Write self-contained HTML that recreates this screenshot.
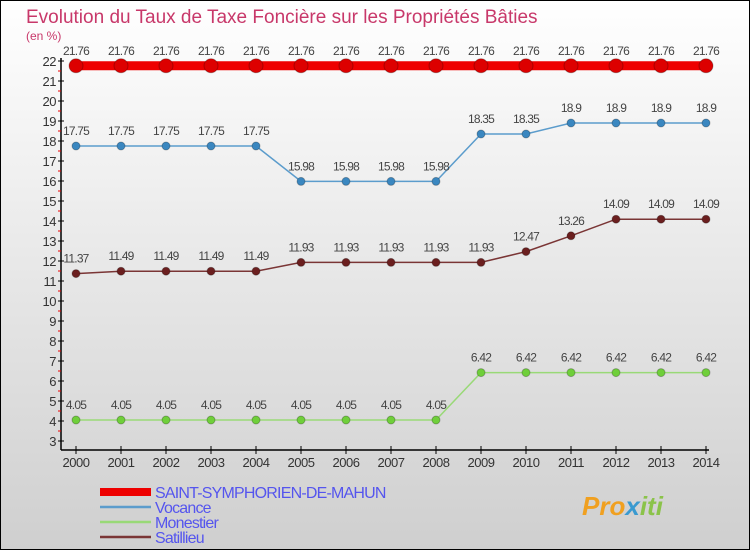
<!DOCTYPE html>
<html><head><meta charset="utf-8"><style>
html,body{margin:0;padding:0}
body{width:750px;height:550px;overflow:hidden}
svg{display:block;font-family:"Liberation Sans",sans-serif}
</style></head><body>
<svg id="chart" width="750" height="550" xmlns="http://www.w3.org/2000/svg">
<defs><linearGradient id="bg" x1="0" y1="0" x2="0" y2="1"><stop offset="0" stop-color="#ffffff"/><stop offset="1" stop-color="#cfcfcf"/></linearGradient></defs>
<rect x="0.5" y="0.5" width="749" height="549" fill="url(#bg)" stroke="#000"/>
<text x="26" y="23" font-size="19" fill="#c8386a">Evolution du Taux de Taxe Foncière sur les Propriétés Bâties</text>
<text x="26" y="40" font-size="12" fill="#c8386a">(en %)</text>
<g id="axes"></g>
<g id="series"></g>
<g id="legend"></g>
<text x="582" y="515" font-size="26" font-weight="bold" fill="#f0a020" font-style="italic">Pro<tspan fill="#3a9ad0">x</tspan><tspan fill="#8bc34a">iti</tspan></text>
</svg>
<script>
const years=[2000,2001,2002,2003,2004,2005,2006,2007,2008,2009,2010,2011,2012,2013,2014];
const saint=[21.76,21.76,21.76,21.76,21.76,21.76,21.76,21.76,21.76,21.76,21.76,21.76,21.76,21.76,21.76];
const vocance=[17.75,17.75,17.75,17.75,17.75,15.98,15.98,15.98,15.98,18.35,18.35,18.9,18.9,18.9,18.9];
const monestier=[4.05,4.05,4.05,4.05,4.05,4.05,4.05,4.05,4.05,6.42,6.42,6.42,6.42,6.42,6.42];
const satillieu=[11.37,11.49,11.49,11.49,11.49,11.93,11.93,11.93,11.93,11.93,12.47,13.26,14.09,14.09,14.09];
const yTicks=[3,4,5,6,7,8,9,10,11,12,13,14,15,16,17,18,19,20,21,22];
const seriesNames=["SAINT-SYMPHORIEN-DE-MAHUN","Vocance","Monestier","Satillieu"];

const NS="http://www.w3.org/2000/svg";
const X=i=>76+i*45;
const Y=v=>441-(v-3)*20;
function mk(tag,attrs,parent,txt){const e=document.createElementNS(NS,tag);for(const k in attrs)e.setAttribute(k,attrs[k]);if(txt!==undefined)e.textContent=txt;parent.appendChild(e);return e;}
const axes=document.getElementById('axes');
let e;
e=mk('line',{x1:61,y1:Y(22)-3,x2:61,y2:450,stroke:'#000','stroke-width':1.5},axes);


e=mk('line',{x1:61,y1:450,x2:X(years.length-1)+3,y2:450,stroke:'#000','stroke-width':1.5},axes);


yTicks.forEach(v=>{
  mk('line',{x1:58,y1:Y(v),x2:64,y2:Y(v),stroke:'#000'},axes);
  e=mk('text',{x:56,y:Y(v)+5,'font-size':13,'text-anchor':'end',fill:'#333','letter-spacing':'-0.5'},axes,String(v));
  
  
  if(v<22) mk('line',{x1:58,y1:Y(v+0.5),x2:61,y2:Y(v+0.5),stroke:'#e00'},axes);
});
years.forEach((yr,i)=>{
  mk('line',{x1:X(i),y1:446,x2:X(i),y2:454,stroke:'#000'},axes);
  e=mk('text',{x:X(i),y:467,'font-size':13,'text-anchor':'middle',fill:'#333','letter-spacing':'-0.5'},axes,String(yr));
  
  
});
const sg=document.getElementById('series');
const defs=[[saint,'#ee0000','#dd0000',9,7,'saint'],[vocance,'#5b9ccc','#3a87c0',1.5,4,'vocance'],[monestier,'#99d977','#6fcf3a',1.5,4,'monestier'],[satillieu,'#7a3535','#6b1f1f',1.5,4,'satillieu']];
defs.forEach(([vals,lc,pc,w,r,nm])=>{
  const g=mk('g',{},sg);
  
  
  e=mk('polyline',{points:vals.map((v,i)=>X(i)+','+Y(v)).join(' '),fill:'none',stroke:lc,'stroke-width':w},g);
  
  
  vals.forEach((v,i)=>{
    e=mk('circle',{cx:X(i),cy:Y(v),r:r,fill:pc,stroke:'rgba(0,0,0,0.25)','stroke-width':1},g);
    
    
    e=mk('text',{x:X(i),y:Y(v)-11,'font-size':12,'text-anchor':'middle',fill:'#444','letter-spacing':'-0.8'},g,String(v));
    
    
  });
});
const lg=document.getElementById('legend');
defs.forEach(([vals,lc,pc,w,r,nm],k)=>{
  const y=492+k*15;
  const g=mk('g',{},lg);
  
  
  mk('line',{x1:100,y1:y,x2:151,y2:y,stroke:k==0?'#ee0000':lc,'stroke-width':k==0?8:2.5},g);
  mk('text',{x:155,y:y+6,'font-size':16,fill:'#5555ee','letter-spacing':'-0.8'},g,seriesNames[k]);
});
</script>
</body></html>
